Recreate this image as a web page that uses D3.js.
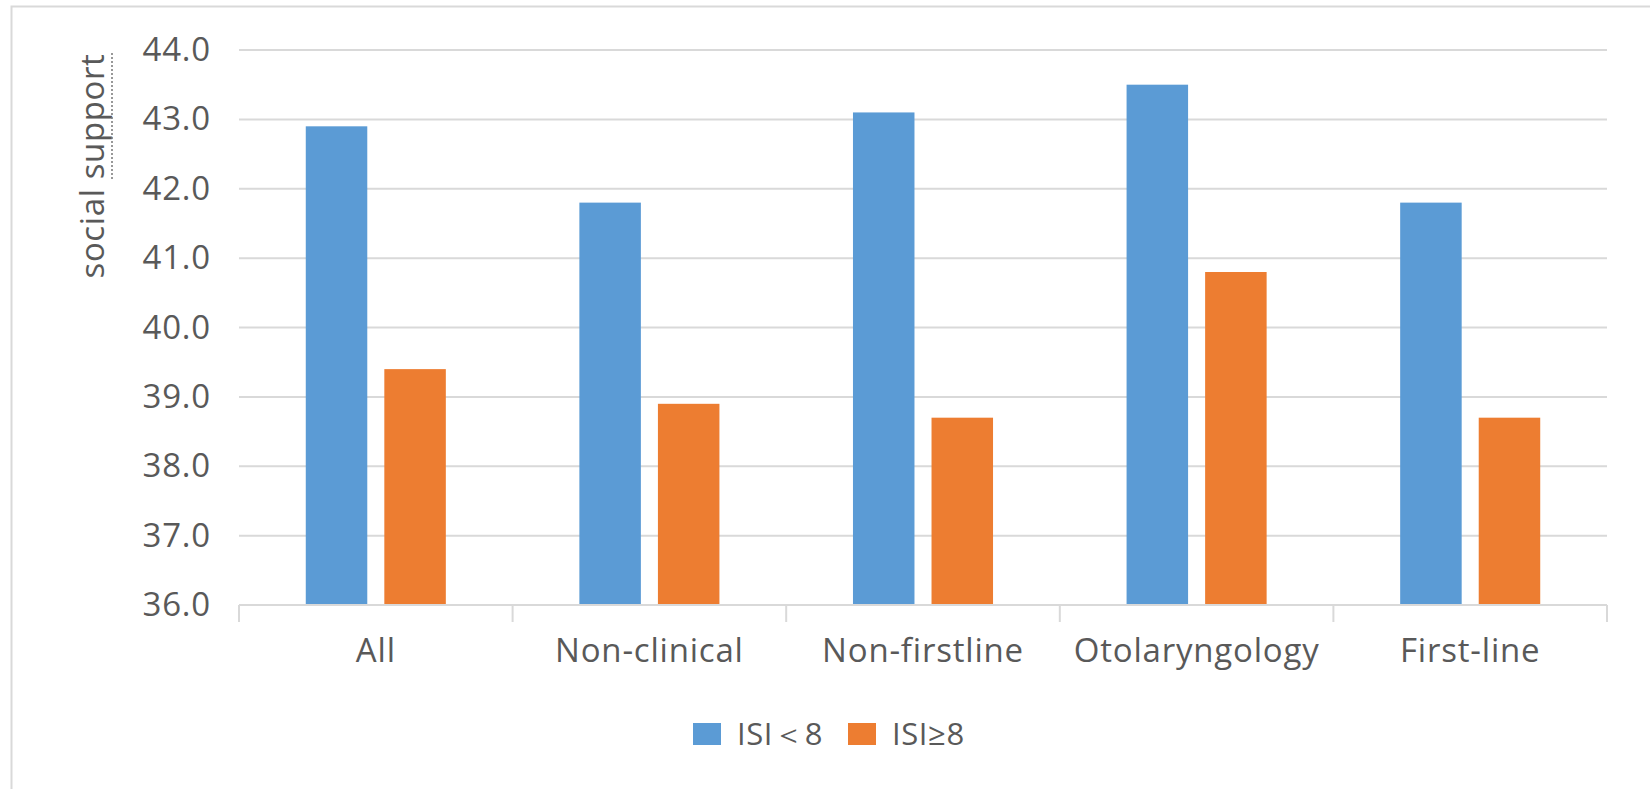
<!DOCTYPE html>
<html><head><meta charset="utf-8">
<script src="https://cdn.jsdelivr.net/npm/d3@7"></script>
<style>body{margin:0;background:#fff}</style>
</head><body>
<svg id="c" width="1650" height="789"></svg>
<script>
const categories = ["All","Non-clinical","Non-firstline","Otolaryngology","First-line"];
const seriesNames = ["ISI\uFF1C8","ISI\u22658"];
const seriesLow = [42.9,41.8,43.1,43.5,41.8];
const seriesHigh = [39.4,38.9,38.7,40.8,38.7];
const yTicks = [36,37,38,39,40,41,42,43,44];
const colors = ["#5b9bd5","#ed7d31"];

const svg = d3.select("#c");
const font = "'Open Sans', sans-serif";
const txt = "#595959";
const L=239,R=1607,T=50,B=605;

svg.append("rect").attr("x",11.5).attr("y",6.5).attr("width",1700).attr("height",900)
  .attr("fill","#fff").attr("stroke","#d9d9d9").attr("stroke-width",2);

const x = d3.scaleBand().domain(categories).range([L,R]);
const xs = d3.scaleBand().domain([0,1]).range([0,x.bandwidth()]).paddingInner(0.217).paddingOuter(0.85);
const y = d3.scaleLinear().domain([36,44]).range([B,T]);

// gridlines
svg.append("g").selectAll("line").data(yTicks.slice(1)).join("line")
  .attr("x1",L).attr("x2",R).attr("y1",d=>y(d)).attr("y2",d=>y(d))
  .attr("stroke","#d9d9d9").attr("stroke-width",2);

// y labels
const yAxis = d3.axisLeft(y).tickValues(yTicks).tickFormat(d3.format(".1f")).tickSize(0).tickPadding(28);
const gy = svg.append("g").attr("transform",`translate(${L},0)`).call(yAxis);
gy.select(".domain").remove();
gy.selectAll("text").attr("font-family",font).attr("font-size",33).attr("letter-spacing","0.8px").attr("fill",txt);

// bars
const data = categories.map((c,i)=>({c,vals:[seriesLow[i],seriesHigh[i]]}));
const g = svg.append("g");
data.forEach(d=>{
  d.vals.forEach((v,j)=>{
    g.append("rect").attr("x",x(d.c)+xs(j)).attr("width",xs.bandwidth())
      .attr("y",y(v)).attr("height",y(36)-y(v)).attr("fill",colors[j]);
  });
});

// x axis
const xAxis = d3.axisBottom(x).tickSize(0).tickPadding(34);
const gx = svg.append("g").attr("transform",`translate(0,${B})`).call(xAxis);
gx.select(".domain").remove();
gx.selectAll("text").attr("font-family",font).attr("font-size",33).attr("letter-spacing","0.8px").attr("fill",txt);
svg.append("line").attr("x1",L).attr("x2",R).attr("y1",B).attr("y2",B).attr("stroke","#d9d9d9").attr("stroke-width",2);
const bounds = categories.map(c=>x(c)).concat([R]);
svg.append("g").selectAll("line").data(bounds).join("line")
  .attr("x1",d=>d).attr("x2",d=>d).attr("y1",B).attr("y2",B+17)
  .attr("stroke","#d9d9d9").attr("stroke-width",2);

// y title
svg.append("text").attr("transform","translate(104,166) rotate(-90)")
  .attr("text-anchor","middle").attr("font-family",font).attr("font-size",33).attr("letter-spacing","0.6px").attr("fill",txt)
  .text("social support");
// squiggle under "support"
svg.append("line").attr("x1",112).attr("x2",112).attr("y1",53).attr("y2",180)
  .attr("stroke","#777").attr("stroke-width",1.5).attr("stroke-dasharray","2,2");

// legend
const lg = svg.append("g");
const lx=[693,848];
seriesNames.forEach((n,j)=>{
  lg.append("rect").attr("x",lx[j]).attr("y",723).attr("width",28).attr("height",22).attr("fill",colors[j]);
  lg.append("text").attr("x",lx[j]+44).attr("y",745).attr("font-family",font).attr("font-size",31)
    .attr("letter-spacing","0.6px").attr("fill",txt).text(n);
});
</script>
</body></html>
